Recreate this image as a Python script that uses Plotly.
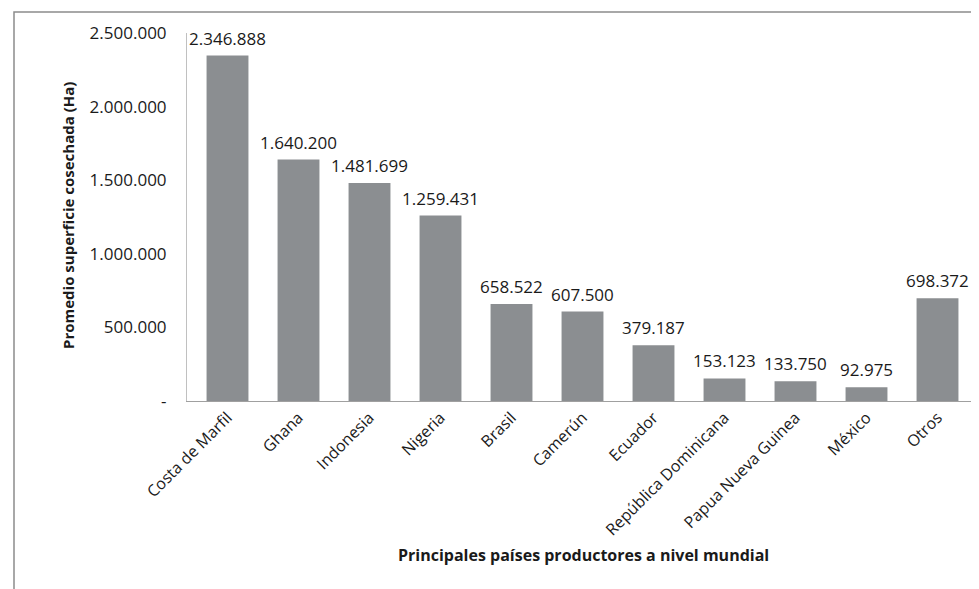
import plotly.graph_objects as go

categories = ["Costa de Marfil", "Ghana", "Indonesia", "Nigeria", "Brasil", "Camerún",
              "Ecuador", "República Dominicana", "Papua Nueva Guinea", "México", "Otros"]
values = [2346888, 1640200, 1481699, 1259431, 658522, 607500, 379187, 153123, 133750, 92975, 698372]
y_tickvals = [0, 500000, 1000000, 1500000, 2000000, 2500000]
y_ticktext = ["-", "500.000", "1.000.000", "1.500.000", "2.000.000", "2.500.000"]

FONT = "Open Sans"
OFF = 8  # page body offset
W, H = 979 - OFF, 589 - OFF
ML, MR, MT, MB = 187 - OFF, 6, 33 - OFF, 188
pw = W - ML - MR
ph = H - MT - MB


def px_x(p):
    return (p - OFF - ML) / pw


def px_y(p):
    return (H - MB - (p - OFF)) / ph


def fmt(v):
    return f"{v:,}".replace(",", ".")


fig = go.Figure(go.Bar(
    x=categories, y=values,
    marker=dict(color="#8b8e91", line=dict(width=0)),
    width=0.59,
    hovertemplate="%{x}: %{y:,}<extra></extra>",
))

label_annotations = [
    dict(x=c, y=v, xref="x", yref="y", text=fmt(v), showarrow=False,
         xanchor="center", yanchor="bottom", yshift=4,
         font=dict(family=FONT, size=17, color="#1a1a1a"))
    for c, v in zip(categories, values)
]

fig.update_layout(
    width=W, height=H,
    margin=dict(l=ML, r=MR, t=MT, b=MB),
    paper_bgcolor="white", plot_bgcolor="white",
    separators=",.",
    showlegend=False,
    font=dict(family=FONT, color="#1a1a1a"),
    xaxis=dict(
        tickangle=-45, tickfont=dict(family=FONT, size=16, color="#1a1a1a"),
        showline=True, linecolor="#a0a0a0", linewidth=1,
        ticks="", showgrid=False,
    ),
    yaxis=dict(
        range=[0, 2500000],
        tickvals=y_tickvals, ticktext=y_ticktext,
        tickfont=dict(family=FONT, size=17, color="#1a1a1a"),
        showline=True, linecolor="#c0c0c0", linewidth=1,
        showgrid=False, zeroline=False, ticks="",
        ticklabelstandoff=16,
    ),
    annotations=label_annotations + [
        dict(text="<b>Principales países productores a nivel mundial</b>",
             xref="paper", yref="paper", x=px_x(583), y=px_y(555),
             xanchor="center", yanchor="middle", showarrow=False,
             font=dict(family=FONT, size=16, color="#1a1a1a")),
        dict(text="<b>Promedio superficie cosechada (Ha)</b>",
             xref="paper", yref="paper", x=px_x(68), y=px_y(216),
             xanchor="center", yanchor="middle", showarrow=False, textangle=-90,
             font=dict(family=FONT, size=15, color="#1a1a1a")),
    ],
    shapes=[dict(type="rect", xref="paper", yref="paper",
                 x0=px_x(14), x1=px_x(1000), y0=px_y(620), y1=px_y(12),
                 line=dict(color="#8c8c8c", width=1.5), fillcolor="rgba(0,0,0,0)", layer="below")],
)

fig.write_html("out.html")
